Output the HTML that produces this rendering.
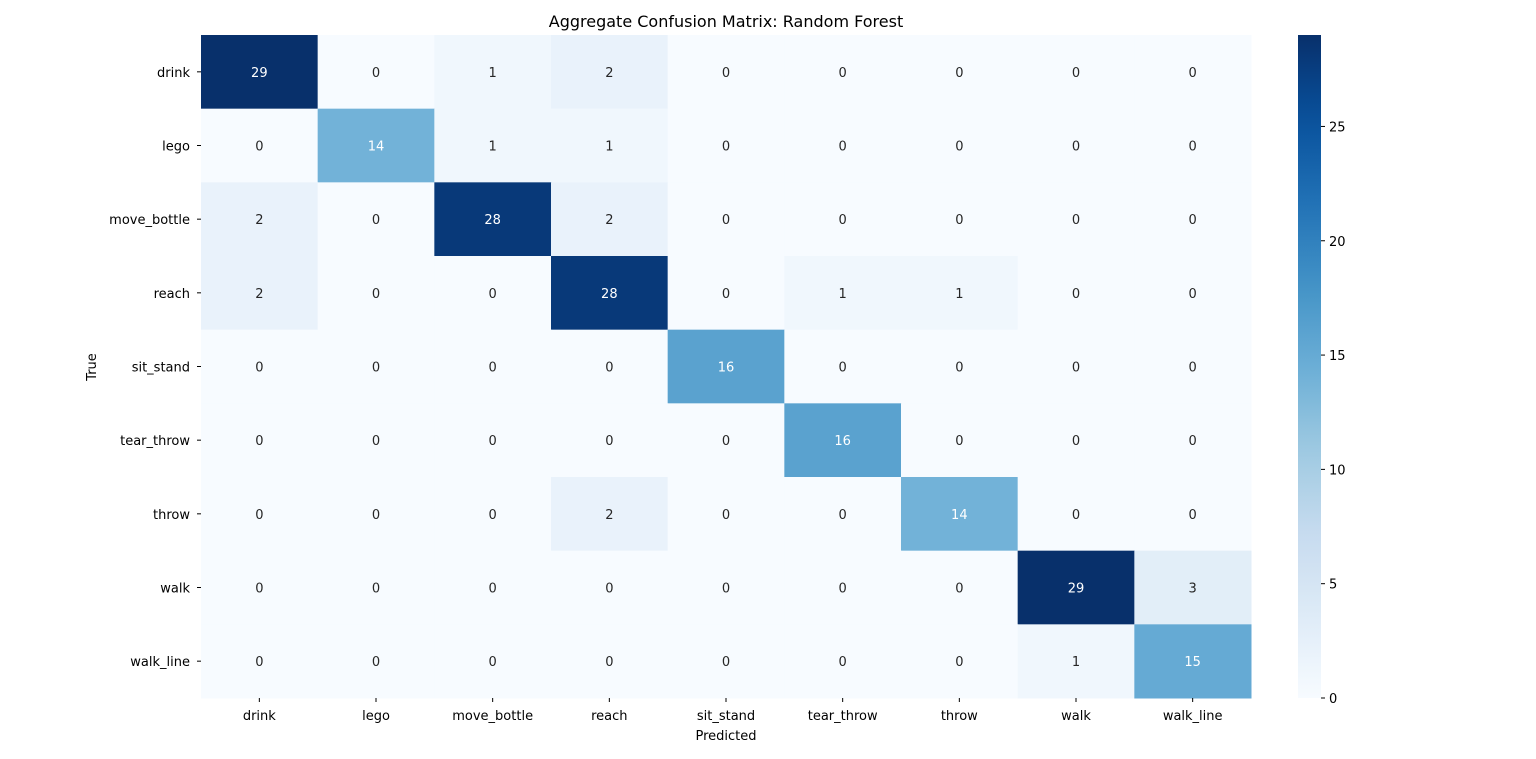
<!DOCTYPE html>
<html><head><meta charset="utf-8"><style>
body{margin:0;background:#fff;font-family:"Liberation Sans","DejaVu Sans",sans-serif;}
</style></head><body>
<svg id="chart" width="1536" height="754" xmlns="http://www.w3.org/2000/svg" font-family="DejaVu Sans, Liberation Sans, sans-serif">
<text x="726" y="27" text-anchor="middle" font-size="16" fill="#000">Aggregate Confusion Matrix: Random Forest</text>
<text x="726" y="740" text-anchor="middle" font-size="13" fill="#000">Predicted</text>
<text x="96" y="367" text-anchor="middle" font-size="13" fill="#000" transform="rotate(-90 96 367)">True</text>
<g id="cells"></g>
<g id="colorbar"></g>
</svg>
<script>
const labels=["drink","lego","move_bottle","reach","sit_stand","tear_throw","throw","walk","walk_line"];
const matrix=[
[29,0,1,2,0,0,0,0,0],
[0,14,1,1,0,0,0,0,0],
[2,0,28,2,0,0,0,0,0],
[2,0,0,28,0,1,1,0,0],
[0,0,0,0,16,0,0,0,0],
[0,0,0,0,0,16,0,0,0],
[0,0,0,2,0,0,14,0,0],
[0,0,0,0,0,0,0,29,3],
[0,0,0,0,0,0,0,1,15]];
const cbTicks=[0,5,10,15,20,25];
const NS="http://www.w3.org/2000/svg";
const X0=201,Y0=35,W=1050,H=663;
const n=labels.length;
const vmax=Math.max(...matrix.flat());
const stops=["#f7fbff","#deebf7","#c6dbef","#9ecae1","#6baed6","#4292c6","#2171b5","#08519c","#08306b"].map(h=>[parseInt(h.slice(1,3),16),parseInt(h.slice(3,5),16),parseInt(h.slice(5,7),16)]);
function cmap(t){t=Math.max(0,Math.min(1,t));const p=t*8,i=Math.min(7,Math.floor(p)),f=p-i;return stops[i].map((c,k)=>Math.round(c+(stops[i+1][k]-c)*f));}
function lum(c){const l=c.map(v=>{v/=255;return v<=0.03928?v/12.92:Math.pow((v+0.055)/1.055,2.4);});return 0.2126*l[0]+0.7152*l[1]+0.0722*l[2];}
const xs=j=>X0+j*W/n, ys=i=>Y0+i*H/n, cw=W/n, ch=H/n;
function mk(tag,attrs,parent){const e=document.createElementNS(NS,tag);for(const k in attrs)e.setAttribute(k,attrs[k]);parent.appendChild(e);return e;}
const g=document.getElementById('cells');
matrix.forEach((row,i)=>row.forEach((v,j)=>{
  const c=cmap(v/vmax);
  const r=mk('rect',{x:xs(j),y:ys(i),width:cw+0.5,height:ch+0.5,fill:`rgb(${c})`},g);
  
  
  const t=mk('text',{x:xs(j)+cw/2,y:ys(i)+ch/2+5,'text-anchor':'middle','font-size':13,fill:lum(c)>0.408?'#262626':'#fff'},g);
  t.textContent=v;
  
  
}));
labels.forEach((l,k)=>{
  const tx=mk('text',{x:xs(k)+cw/2,y:720,'text-anchor':'middle','font-size':13,fill:'#000'},g);tx.textContent=l;
  
  
  mk('line',{x1:xs(k)+cw/2,x2:xs(k)+cw/2,y1:Y0+H,y2:Y0+H+4,stroke:'#000'},g);
  const ty=mk('text',{x:190,y:ys(k)+ch/2+5,'text-anchor':'end','font-size':13,fill:'#000'},g);ty.textContent=l;
  
  
  mk('line',{x1:X0-4,x2:X0,y1:ys(k)+ch/2,y2:ys(k)+ch/2,stroke:'#000'},g);
});
const cb=document.getElementById('colorbar');
const CX=1298,CW=23;
const defs=mk('defs',{},cb);
const grad=mk('linearGradient',{id:'cbg',x1:0,y1:1,x2:0,y2:0},defs);
for(let k=0;k<=20;k++){const c=cmap(k/20);mk('stop',{offset:k/20,'stop-color':`rgb(${c})`},grad);}
const cr=mk('rect',{x:CX,y:Y0,width:CW,height:H,fill:'url(#cbg)'},cb);


const cy=v=>Y0+H-v/vmax*H;
cbTicks.forEach(v=>{
  mk('line',{x1:CX+CW,x2:CX+CW+4,y1:cy(v),y2:cy(v),stroke:'#000'},cb);
  const t=mk('text',{x:CX+CW+8,y:cy(v)+5,'font-size':13,fill:'#000'},cb);t.textContent=v;
  
  
});
</script>
</body></html>
